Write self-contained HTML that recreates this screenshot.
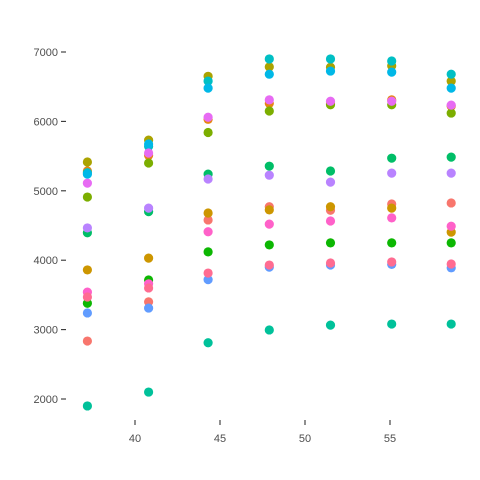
<!DOCTYPE html>
<html><head><meta charset="utf-8"><style>
body{margin:0;background:#fff}
svg{display:block;font-family:"Liberation Sans",sans-serif}
</style></head><body>
<svg id="chart" width="480" height="480">
<g id="axes"></g>
<g id="marks"></g>
</svg>
<script>
const xValues=[37.2,40.8,44.3,47.9,51.5,55.1,58.6];
const xTicks=[40,45,50,55];
const yTicks=[2000,3000,4000,5000,6000,7000];
const seriesNames=["red","orange","gold","olive","yellowgreen","green","tealgreen","teal","cyan","blue","lightblue","purple","magenta","pink","pinkred"];
const seriesColors=["#F8766D","#E68613","#CD9600","#ABA300","#7CAE00","#0CB702","#00BE67","#00C19A","#00BFC4","#00B8E7","#619CFF","#B983FF","#E76BF3","#FF61C9","#FF6C91"];
const red=[2835,3400,4580,4770,4720,4810,4825];
const orange=[5285,5510,6030,6260,6260,6310,6220];
const gold=[3860,4030,4680,4725,4770,4750,4405];
const olive=[5415,5730,6650,6785,6780,6800,6580];
const yellowgreen=[4910,5400,5840,6150,6240,6240,6120];
const green=[3380,3715,4120,4220,4250,4250,4250];
const tealgreen=[4395,4700,5240,5355,5285,5470,5485];
const teal=[1900,2100,2810,2995,3065,3080,3080];
const cyan=[5260,5640,6580,6900,6900,6870,6680];
const blue=[5240,5675,6480,6680,6725,6710,6480];
const lightblue=[3240,3310,3720,3900,3930,3940,3890];
const purple=[4465,4750,5170,5225,5125,5255,5255];
const magenta=[5110,5545,6060,6310,6290,6290,6235];
const pink=[3540,3660,4410,4520,4565,4610,4490];
const pinkred=[3470,3600,3815,3930,3960,3975,3945];
const seriesData=[red,orange,gold,olive,yellowgreen,green,tealgreen,teal,cyan,blue,lightblue,purple,magenta,pink,pinkred];

const NS="http://www.w3.org/2000/svg";
function xs(v){return 135+(v-40)*17;}
function ys(v){return 52+(7000-v)*0.0694;}
const axes=document.getElementById('axes');
const marks=document.getElementById('marks');
yTicks.forEach(t=>{
  const l=document.createElementNS(NS,'line');
  l.setAttribute('x1',61);l.setAttribute('x2',66);l.setAttribute('y1',ys(t));l.setAttribute('y2',ys(t));
  l.setAttribute('stroke','#333');l.setAttribute('stroke-width','1.1');
  
  
  axes.appendChild(l);
  const tx=document.createElementNS(NS,'text');
  tx.setAttribute('x',58);tx.setAttribute('y',ys(t)+4);tx.setAttribute('text-anchor','end');
  tx.setAttribute('font-size','11');tx.setAttribute('fill','#4d4d4d');
  tx.textContent=t;
  
  
  axes.appendChild(tx);
});
xTicks.forEach(t=>{
  const l=document.createElementNS(NS,'line');
  l.setAttribute('x1',xs(t));l.setAttribute('x2',xs(t));l.setAttribute('y1',420);l.setAttribute('y2',425);
  l.setAttribute('stroke','#333');l.setAttribute('stroke-width','1.1');
  
  
  axes.appendChild(l);
  const tx=document.createElementNS(NS,'text');
  tx.setAttribute('x',xs(t));tx.setAttribute('y',442);tx.setAttribute('text-anchor','middle');
  tx.setAttribute('font-size','11');tx.setAttribute('fill','#4d4d4d');
  tx.textContent=t;
  
  
  axes.appendChild(tx);
});
seriesData.forEach((arr,si)=>{
  arr.forEach((v,i)=>{
    const c=document.createElementNS(NS,'circle');
    c.setAttribute('cx',xs(xValues[i]));c.setAttribute('cy',ys(v));c.setAttribute('r',4.6);
    c.setAttribute('fill',seriesColors[si]);
    
    
    marks.appendChild(c);
  });
});
</script>
</body></html>
